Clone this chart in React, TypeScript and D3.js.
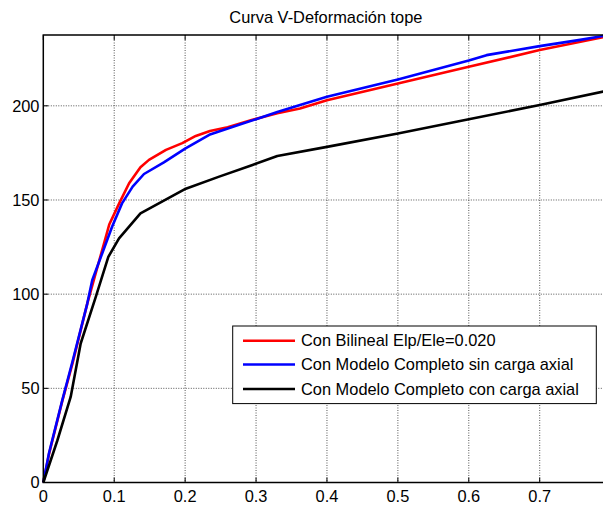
import React from 'react';
import * as d3 from 'd3';

const title = 'Curva V-Deformación tope';

// Con Bilineal Elp/Ele=0.020
const redX = [0, 0.008, 0.027, 0.041, 0.062, 0.079, 0.085, 0.093, 0.107, 0.121, 0.137, 0.149, 0.173, 0.196, 0.215, 0.235, 0.26, 0.295, 0.33, 0.362, 0.4, 0.5, 0.6, 0.7, 0.797];
const redY = [0, 15, 43.6, 63, 95, 118, 126, 137, 148.2, 158.9, 167.4, 171.3, 176.6, 180.2, 184, 186.6, 188.6, 192.6, 196, 198.6, 203, 211.9, 220.7, 229.6, 237];

// Con Modelo Completo sin carga axial
const blueX = [0, 0.008, 0.027, 0.041, 0.062, 0.069, 0.083, 0.097, 0.111, 0.126, 0.142, 0.17, 0.2, 0.234, 0.276, 0.3, 0.33, 0.362, 0.4, 0.5, 0.6, 0.625, 0.7, 0.757, 0.797];
const blueY = [0, 15.5, 44, 64, 95, 107.4, 121.6, 135.8, 148.2, 157.1, 163.8, 170, 177.3, 184.6, 189.9, 192.9, 196.7, 200.4, 204.8, 214, 224, 226.9, 231.7, 235, 237.6];

// Con Modelo Completo con carga axial
const blackX = [0, 0.0198, 0.0386, 0.0527, 0.074, 0.0917, 0.1068, 0.137, 0.201, 0.248, 0.295, 0.33, 0.4, 0.5, 0.6, 0.7, 0.797];
const blackY = [0, 22.3, 45.4, 73.8, 98.6, 119.8, 129.6, 142.9, 156, 162.4, 168.6, 173.4, 178.2, 185.3, 192.9, 200.4, 208.2];

const xTicks = [0, 0.1, 0.2, 0.3, 0.4, 0.5, 0.6, 0.7];
const yTicks = [0, 50, 100, 150, 200];

const seriesNames = [
  'Con Bilineal Elp/Ele=0.020',
  'Con Modelo Completo sin carga axial',
  'Con Modelo Completo con carga axial',
];
const seriesColors = ['#ff0000', '#0000ff', '#000000'];

const W = 603;
const H = 506;
const m = { left: 43.3, right: 608.5, top: 35, bottom: 482.5 };
const font = '"Liberation Sans", Arial, sans-serif';
const fs = 16.4;

export default function App() {
  const x = d3.scaleLinear().domain([0, 0.797]).range([m.left, m.right]);
  const y = d3.scaleLinear().domain([0, 237.6]).range([m.bottom, m.top]);

  const line = d3
    .line<[number, number]>()
    .x((d) => x(d[0]))
    .y((d) => y(d[1]));

  const series = [
    redX.map((v, i) => [v, redY[i]] as [number, number]),
    blueX.map((v, i) => [v, blueY[i]] as [number, number]),
    blackX.map((v, i) => [v, blackY[i]] as [number, number]),
  ];

  // legend box
  const lg = { x: 232.7, y: 326, w: 363.6, h: 77.6 };
  const rowY = [340.7, 364.5, 389];

  return (
    <svg
      width={W}
      height={H}
      style={{ position: 'fixed', left: 0, top: 0, background: '#fff' }}
      fontFamily={font}
    >
      <rect x={0} y={0} width={W} height={H} fill="#fff" />
      <text x={(m.left + m.right) / 2} y={22.5} textAnchor="middle" fontSize={fs} fill="#000">
        {title}
      </text>

      {/* grid */}
      <g stroke="#555" strokeWidth={1} strokeDasharray="1,1.5">
        {xTicks.slice(1).map((t) => (
          <line key={'gx' + t} x1={x(t)} x2={x(t)} y1={m.top} y2={m.bottom} />
        ))}
        {yTicks.slice(1).map((t) => (
          <line key={'gy' + t} x1={m.left} x2={m.right} y1={y(t)} y2={y(t)} />
        ))}
      </g>

      {/* ticks */}
      <g stroke="#000" strokeWidth={1}>
        {xTicks.map((t) => (
          <g key={'tx' + t}>
            <line x1={x(t)} x2={x(t)} y1={m.bottom} y2={m.bottom - 5} />
            <line x1={x(t)} x2={x(t)} y1={m.top} y2={m.top + 5} />
          </g>
        ))}
        {yTicks.map((t) => (
          <g key={'ty' + t}>
            <line x1={m.left} x2={m.left + 5} y1={y(t)} y2={y(t)} />
            <line x1={m.right} x2={m.right - 5} y1={y(t)} y2={y(t)} />
          </g>
        ))}
      </g>

      {/* data */}
      <g fill="none" strokeWidth={2.6} strokeLinejoin="round">
        {series.map((s, i) => (
          <path key={i} d={line(s) || ''} stroke={seriesColors[i]} />
        ))}
      </g>

      {/* axes box */}
      <rect
        x={m.left}
        y={m.top}
        width={m.right - m.left}
        height={m.bottom - m.top}
        fill="none"
        stroke="#000"
        strokeWidth={1.5}
      />

      {/* tick labels */}
      <g fontSize={fs} fill="#000">
        {xTicks.map((t) => (
          <text key={'lx' + t} x={x(t)} y={501.5} textAnchor="middle">
            {d3.format('')(t)}
          </text>
        ))}
        {yTicks.map((t) => (
          <text key={'ly' + t} x={39.5} y={y(t)} dy="0.35em" textAnchor="end">
            {t}
          </text>
        ))}
      </g>

      {/* legend */}
      <rect x={lg.x} y={lg.y} width={lg.w} height={lg.h} fill="#fff" stroke="#000" strokeWidth={1} />
      {seriesNames.map((name, i) => (
        <g key={name}>
          <line x1={243} x2={295} y1={rowY[i]} y2={rowY[i]} stroke={seriesColors[i]} strokeWidth={2.6} />
          <text x={301} y={rowY[i]} dy="0.35em" fontSize={fs} fill="#000">
            {name}
          </text>
        </g>
      ))}
    </svg>
  );
}
